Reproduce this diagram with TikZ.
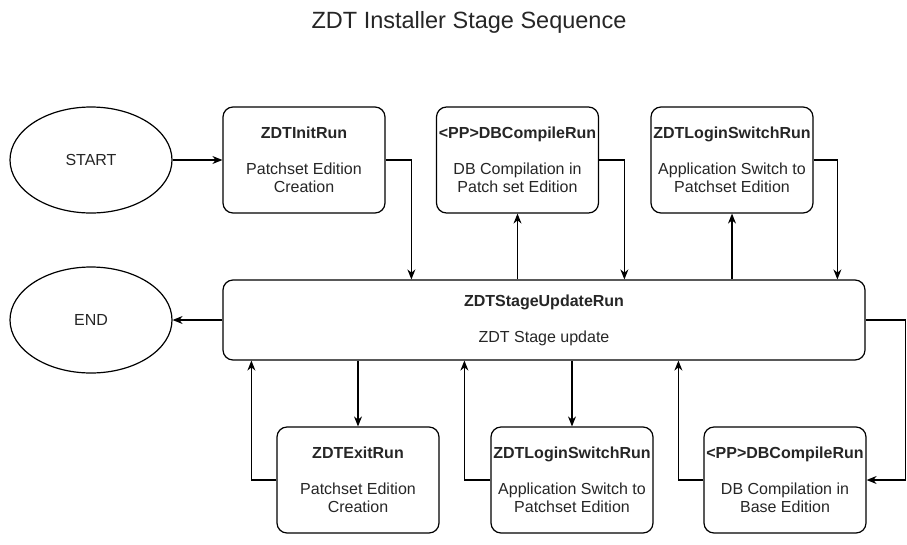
\documentclass[tikz,border=0pt]{standalone}
\usepackage{fontspec}
\setmainfont{Liberation Sans}
\usetikzlibrary{shapes.geometric,arrows.meta}
\begin{document}
\begin{tikzpicture}[x=1pt,y=-1pt,
  every node/.style={font=\fontsize{16}{18}\selectfont,text=black!85},
  term/.style={ellipse,draw,line width=1.2pt,minimum width=162pt,minimum height=106pt,inner sep=0pt},
  stagebox/.style={draw,line width=1.2pt,rounded corners=10pt,minimum width=162pt,minimum height=106pt,align=center,inner sep=0pt},
  flow/.style={line width=1.2pt,-{Stealth[length=10pt,width=8pt]}}]
\useasboundingbox[fill=white] (0,0) rectangle (907,544);
\node at (469,22) [font=\fontsize{23.5}{27}\selectfont] (title) {ZDT Installer Stage Sequence};
\node at (91,160) [term] (start) {START};
\node at (91,320) [term] (finish) {END};
\node at (304,160) [stagebox] (init) {\textbf{ZDTInitRun}\\[18pt]Patchset Edition\\Creation};
\node at (517.5,160) [stagebox] (compA) {\textbf{<PP>DBCompileRun}\\[18pt]DB Compilation in\\Patch set Edition};
\node at (732,160) [stagebox] (loginA) {\textbf{ZDTLoginSwitchRun}\\[18pt]Application Switch to\\Patchset Edition};
\node at (544,320) [stagebox,minimum width=642pt,minimum height=80pt] (update) {\textbf{ZDTStageUpdateRun}\\[18pt]ZDT Stage update};
\node at (358,480) [stagebox] (exitrun) {\textbf{ZDTExitRun}\\[18pt]Patchset Edition\\Creation};
\node at (572,480) [stagebox] (loginB) {\textbf{ZDTLoginSwitchRun}\\[18pt]Application Switch to\\Patchset Edition};
\node at (785,480) [stagebox] (compB) {\textbf{<PP>DBCompileRun}\\[18pt]DB Compilation in\\Base Edition};
\draw[flow] (start) -- (init);
\draw[flow] (init.east) -| ([xshift=189pt]update.north west);
\draw[flow] (compA.south |- update.north) -- (compA.south);
\draw[flow] (compA.east) -| ([xshift=402pt]update.north west);
\draw[flow] (loginA.south |- update.north) -- (loginA.south);
\draw[flow] (loginA.east) -| ([xshift=615pt]update.north west);
\draw[flow] (update.west) -- (finish.east);
\draw[flow] (update.east) -- ++(40,0) |- (compB.east);
\draw[flow] (exitrun.north |- update.south) -- (exitrun.north);
\draw[flow] (exitrun.west) -| ([xshift=29pt]update.south west);
\draw[flow] (loginB.north |- update.south) -- (loginB.north);
\draw[flow] (loginB.west) -| ([xshift=242pt]update.south west);
\draw[flow] (compB.west) -| ([xshift=456pt]update.south west);
\end{tikzpicture}
\end{document}
